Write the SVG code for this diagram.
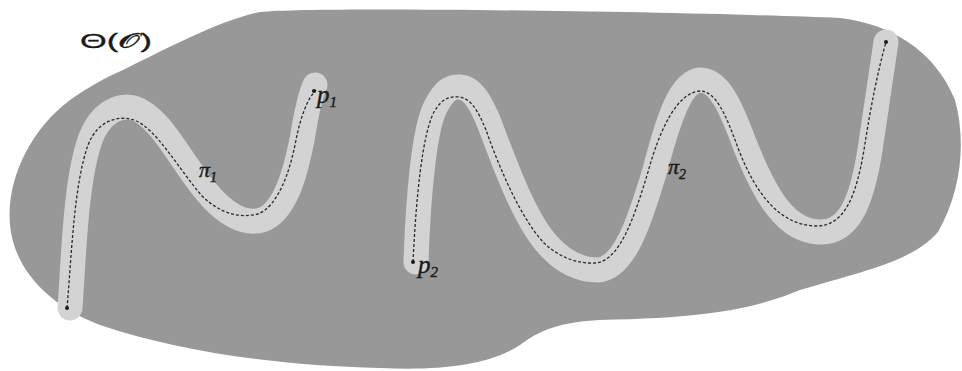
<svg xmlns="http://www.w3.org/2000/svg" width="962" height="371" viewBox="0 0 962 371">
<style>
.blob{fill:#989898;stroke:none}
.tube{fill:none;stroke:#d3d3d3;stroke-width:25;stroke-linecap:round;stroke-linejoin:round}
.path{fill:none;stroke:#2a2a2a;stroke-width:1.3;stroke-dasharray:3 2}
.dot{fill:#1a1a1a}
.lbl{font-family:"Liberation Serif",serif;font-style:italic;fill:#1a1a1a;stroke:#1a1a1a;stroke-width:0.4}
.title{font-family:"Liberation Sans","DejaVu Sans",sans-serif;font-size:20px;fill:#1a1a1a;stroke:#1a1a1a;stroke-width:0.3}
</style>
<rect width="962" height="371" fill="#ffffff"/>
<g id="region">
<path class="blob" d="M 123 70 C 160 52, 220 20, 260 12 C 320 6, 700 12, 840 18 C 890 24, 935 50, 955 100 C 966 140, 962 190, 938 232 C 912 262, 860 272, 800 290 C 760 306, 720 318, 600 320 C 560 322, 540 330, 520 345 C 490 365, 440 371, 380 368 C 280 366, 180 352, 100 325 C 50 306, 14 270, 10 225 C 6 180, 30 130, 70 100 C 90 86, 105 78, 123 70 Z"/>
<text class="title" x="80" y="48" textLength="72" lengthAdjust="spacingAndGlyphs">Θ(𝒪)</text>
</g>
<g id="pi1">
<path class="tube" d="M 70 308 C 74 250, 76 180, 90 140 C 100 112, 120 104, 134 108 C 160 116, 180 160, 205 190 C 225 215, 245 225, 262 220 C 285 212, 295 175, 302 140 C 306 115, 310 95, 315 85"/>
<path class="path" d="M 67 308 C 72 250, 74 185, 88 145 C 98 120, 118 115, 134 120 C 156 128, 178 168, 202 196 C 222 215, 240 218, 258 214 C 278 206, 290 172, 296 140 C 301 115, 308 98, 316 90"/>
<circle class="dot" cx="67" cy="308" r="2"/>
<circle class="dot" cx="314" cy="91" r="2"/>
<text class="lbl" x="199" y="177" font-size="22">π<tspan font-size="14" dy="5">1</tspan></text>
<text class="lbl" x="317" y="103" font-size="25">p<tspan font-size="15" dy="4">1</tspan></text>
</g>
<g id="pi2">
<path class="tube" d="M 416 262 C 418 200, 424 130, 435 108 C 443 92, 450 86, 460 87 C 472 88, 480 100, 490 125 C 505 165, 525 220, 548 245 C 563 262, 580 270, 598 270 C 625 268, 640 220, 655 170 C 668 120, 680 82, 700 80 C 720 80, 732 110, 745 145 C 765 195, 785 230, 818 232 C 850 234, 862 200, 870 150 C 876 110, 882 70, 886 42"/>
<path class="path" d="M 413 262 C 416 200, 422 135, 434 112 C 442 98, 450 96, 460 97 C 470 99, 477 108, 486 130 C 500 170, 522 220, 544 243 C 560 258, 578 264, 596 263 C 620 260, 634 218, 648 172 C 660 128, 678 92, 700 91 C 716 91, 726 115, 738 148 C 756 195, 780 225, 816 226 C 845 226, 856 196, 864 150 C 870 110, 878 70, 886 42"/>
<circle class="dot" cx="413" cy="262" r="2"/>
<circle class="dot" cx="886" cy="42" r="2"/>
<text class="lbl" x="668" y="174" font-size="22">π<tspan font-size="14" dy="5">2</tspan></text>
<text class="lbl" x="418" y="273" font-size="25">p<tspan font-size="15" dy="4">2</tspan></text>
</g>
</svg>
